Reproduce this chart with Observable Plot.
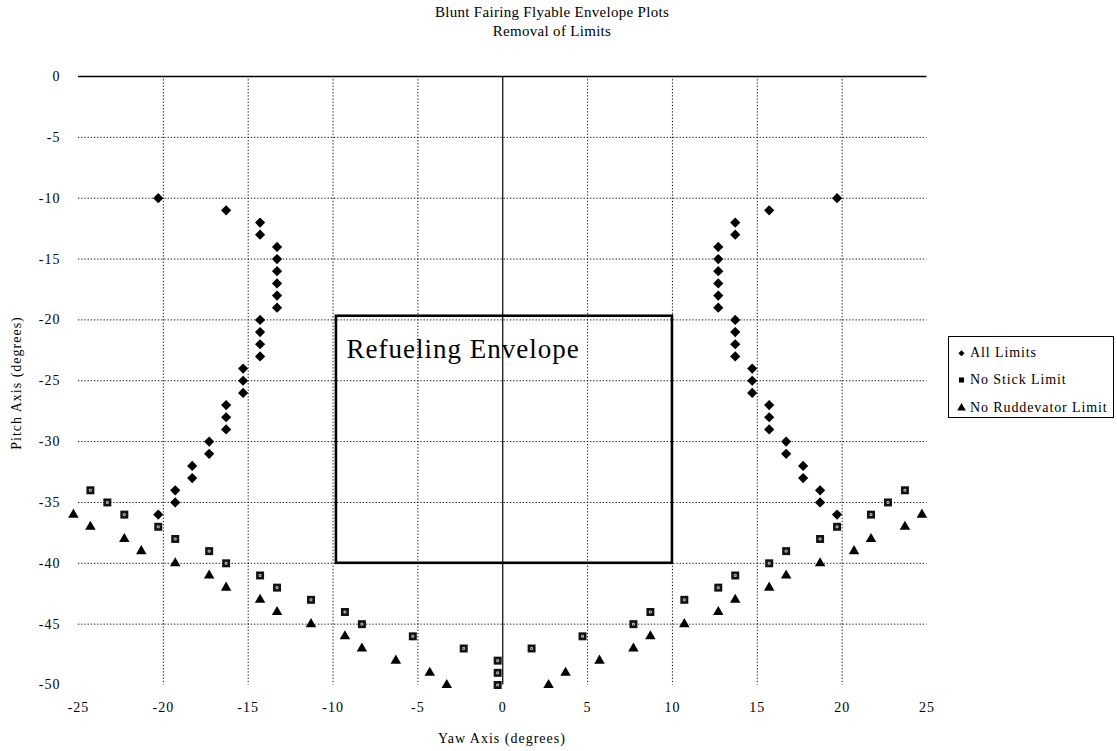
<!DOCTYPE html>
<html>
<head>
<meta charset="utf-8">
<script src="https://cdn.jsdelivr.net/npm/d3@7"></script>
<script src="https://cdn.jsdelivr.net/npm/@observablehq/plot@0.6"></script>
<style>
  html, body { margin: 0; padding: 0; background: #fff; }
  #wrap { position: relative; width: 1117px; height: 751px; overflow: hidden; font-family: "Liberation Serif", "Times New Roman", serif; color: #000; }
  #chart { position: absolute; left: 0; top: 0; }
  .abs { position: absolute; white-space: nowrap; }
  .title { left: 0; width: 1104px; text-align: center; font-size: 15px; line-height: 19px; letter-spacing: 0.3px; top: 2.7px; }
  .xlab { left: 0; width: 1004px; text-align: center; font-size: 14px; line-height: 16px; letter-spacing: 1px; top: 731px; }
  .ylab { left: -83px; width: 200px; text-align: center; font-size: 14px; line-height: 16px; letter-spacing: 1px; top: 375px; transform: rotate(-90deg); transform-origin: 100px 8px; }
  #legend { position: absolute; left: 948px; top: 336px; width: 166px; height: 82px; border: 1px solid #000; box-sizing: border-box; }
  #legend svg { position: absolute; left: -949px; top: -337px; overflow: visible; }
</style>
</head>
<body>
<div id="wrap">
  <div id="chart"></div>
</div>
<script>
// ---- Data ----
const titleLines = ["Blunt Fairing Flyable Envelope Plots", "Removal of Limits"];
const xLabel = "Yaw Axis (degrees)";
const yLabel = "Pitch Axis (degrees)";
const seriesNames = ["All Limits", "No Stick Limit", "No Ruddevator Limit"];

const xTicks = [-25, -20, -15, -10, -5, 0, 5, 10, 15, 20, 25];
const yTicks = [0, -5, -10, -15, -20, -25, -30, -35, -40, -45, -50];
const xGrid = [-20, -15, -10, -5, 5, 10, 15, 20];
const yGrid = [-5, -10, -15, -20, -25, -30, -35, -40, -45];

const allLimitsYaw = [-20.3, -16.3, -14.3, -14.3, -13.3, -13.3, -13.3, -13.3, -13.3, -13.3, -14.3, -14.3, -14.3, -14.3, -15.3, -15.3, -15.3, -16.3, -16.3, -16.3, -17.3, -17.3, -18.3, -18.3, -19.3, -19.3, -20.3,
                      19.7, 15.7, 13.7, 13.7, 12.7, 12.7, 12.7, 12.7, 12.7, 12.7, 13.7, 13.7, 13.7, 13.7, 14.7, 14.7, 14.7, 15.7, 15.7, 15.7, 16.7, 16.7, 17.7, 17.7, 18.7, 18.7, 19.7];
const allLimitsPitch = [-10, -11, -12, -13, -14, -15, -16, -17, -18, -19, -20, -21, -22, -23, -24, -25, -26, -27, -28, -29, -30, -31, -32, -33, -34, -35, -36,
                        -10, -11, -12, -13, -14, -15, -16, -17, -18, -19, -20, -21, -22, -23, -24, -25, -26, -27, -28, -29, -30, -31, -32, -33, -34, -35, -36];

const noStickYaw = [-24.3, -23.3, -22.3, -20.3, -19.3, -17.3, -16.3, -14.3, -13.3, -11.3, -9.3, -8.3, -5.3, -2.3, -0.3, -0.3, -0.3,
                    1.7, 4.7, 7.7, 8.7, 10.7, 12.7, 13.7, 15.7, 16.7, 18.7, 19.7, 21.7, 22.7, 23.7];
const noStickPitch = [-34, -35, -36, -37, -38, -39, -40, -41, -42, -43, -44, -45, -46, -47, -48, -49, -50,
                      -47, -46, -45, -44, -43, -42, -41, -40, -39, -38, -37, -36, -35, -34];

const noRuddYaw = [-25.3, -24.3, -22.3, -21.3, -19.3, -17.3, -16.3, -14.3, -13.3, -11.3, -9.3, -8.3, -6.3, -4.3, -3.3,
                   2.7, 3.7, 5.7, 7.7, 8.7, 10.7, 12.7, 13.7, 15.7, 16.7, 18.7, 20.7, 21.7, 23.7, 24.7];
const noRuddPitch = [-36, -37, -38, -39, -40, -41, -42, -43, -44, -45, -46, -47, -48, -49, -50,
                     -50, -49, -48, -47, -46, -45, -44, -43, -42, -41, -40, -39, -38, -37, -36];

const envelopeLabel = "Refueling Envelope";
const envelopeYaw = [-9.8, 10];
const envelopePitch = [-40, -19.7];

// ---- Build tables ----
const zip = (xs, ys) => xs.map((x, i) => ({x, y: ys[i]}));
const allLimits = zip(allLimitsYaw, allLimitsPitch);
const noStick = zip(noStickYaw, noStickPitch);
const noRudd = zip(noRuddYaw, noRuddPitch);
const envelope = [{x1: envelopeYaw[0], x2: envelopeYaw[1], y1: envelopePitch[0], y2: envelopePitch[1], label: envelopeLabel}];

const dotted = {stroke: "#111", strokeWidth: 1, strokeDasharray: "1.3,1.9"};
const serif = "'Liberation Serif', 'Times New Roman', serif";

const chart = Plot.plot({
  width: 1117,
  height: 751,
  marginLeft: 78,
  marginRight: 190.5,
  marginTop: 76,
  marginBottom: 66.5,
  x: {type: "linear", domain: [-25, 25]},
  y: {type: "linear", domain: [-50, 0]},
  style: {fontFamily: serif, fontSize: "14px", color: "#000", background: "#fff", overflow: "visible"},
  marks: [
    Plot.ruleY(yGrid, dotted),
    Plot.ruleX(xGrid, dotted),
    Plot.ruleY([0], {stroke: "#000", strokeWidth: 1.4}),
    Plot.ruleX([0], {stroke: "#000", strokeWidth: 1.2}),
    Plot.rect(envelope, {x1: "x1", x2: "x2", y1: "y1", y2: "y2", fill: "none", stroke: "#000", strokeWidth: 2.6}),
    Plot.text(envelope, {x: "x1", y: "y2", text: "label", textAnchor: "start", dx: 10, dy: 33, fontSize: 27, fill: "#000", fontFamily: serif}),
    Plot.axisX(xTicks, {anchor: "bottom", tickSize: 0, tickPadding: 17, tickFormat: d => String(d), label: null, fontSize: 14, fontFamily: serif}),
    Plot.axisY(yTicks, {anchor: "left", tickSize: 0, tickPadding: 18, tickFormat: d => String(d), label: null, fontSize: 14, fontFamily: serif}),
    Plot.dot(allLimits, {x: "x", y: "y", symbol: "diamond2", r: 4.6, fill: "#000", stroke: "none"}),
    Plot.dot(noStick, {x: "x", y: "y", symbol: "square", r: 4.5, fill: "#111", stroke: "none"}),
    Plot.dot(noStick, {x: "x", y: "y", symbol: "square", r: 1.1, fill: "none", stroke: "#fff", strokeWidth: 0.7}),
    Plot.dot(noRudd, {x: "x", y: "y", symbol: "triangle", r: 3.9, fill: "#000", stroke: "none"})
  ]
});
document.getElementById("chart").appendChild(chart);
// mild letter spacing on the chart's own text to mimic the scanned type
chart.querySelectorAll("text").forEach(el => el.setAttribute("letter-spacing", "1px"));

// ---- Text around the chart ----
const wrap = document.getElementById("wrap");
const t = document.createElement("div");
t.className = "abs title";
t.innerHTML = titleLines.map(s => `<div>${s}</div>`).join("");
wrap.appendChild(t);

const xl = document.createElement("div");
xl.className = "abs xlab";
xl.textContent = xLabel;
wrap.appendChild(xl);

const yl = document.createElement("div");
yl.className = "abs ylab";
yl.textContent = yLabel;
wrap.appendChild(yl);

// ---- Legend ----
const legend = document.createElement("div");
legend.id = "legend";
wrap.appendChild(legend);
const legSymbols = [d3.symbolDiamond2, d3.symbolSquare, d3.symbolTriangle];
const legSizes = [24, 26, 32];
const legY = [353.3, 380, 408];
const legBase = [356.7, 384, 412.3];
const svgNS = "http://www.w3.org/2000/svg";
const lsvg = document.createElementNS(svgNS, "svg");
lsvg.setAttribute("width", 1117);
lsvg.setAttribute("height", 751);
seriesNames.forEach((name, i) => {
  const p = document.createElementNS(svgNS, "path");
  p.setAttribute("d", d3.symbol(legSymbols[i], legSizes[i])());
  p.setAttribute("transform", `translate(961.5,${legY[i]})`);
  p.setAttribute("fill", "#000");
  lsvg.appendChild(p);
  const tx = document.createElementNS(svgNS, "text");
  tx.setAttribute("x", 970);
  tx.setAttribute("y", legBase[i]);
  tx.setAttribute("font-family", serif);
  tx.setAttribute("font-size", 14);
  tx.setAttribute("letter-spacing", "0.9px");
  tx.textContent = name;
  lsvg.appendChild(tx);
});
legend.appendChild(lsvg);
</script>
</body>
</html>
